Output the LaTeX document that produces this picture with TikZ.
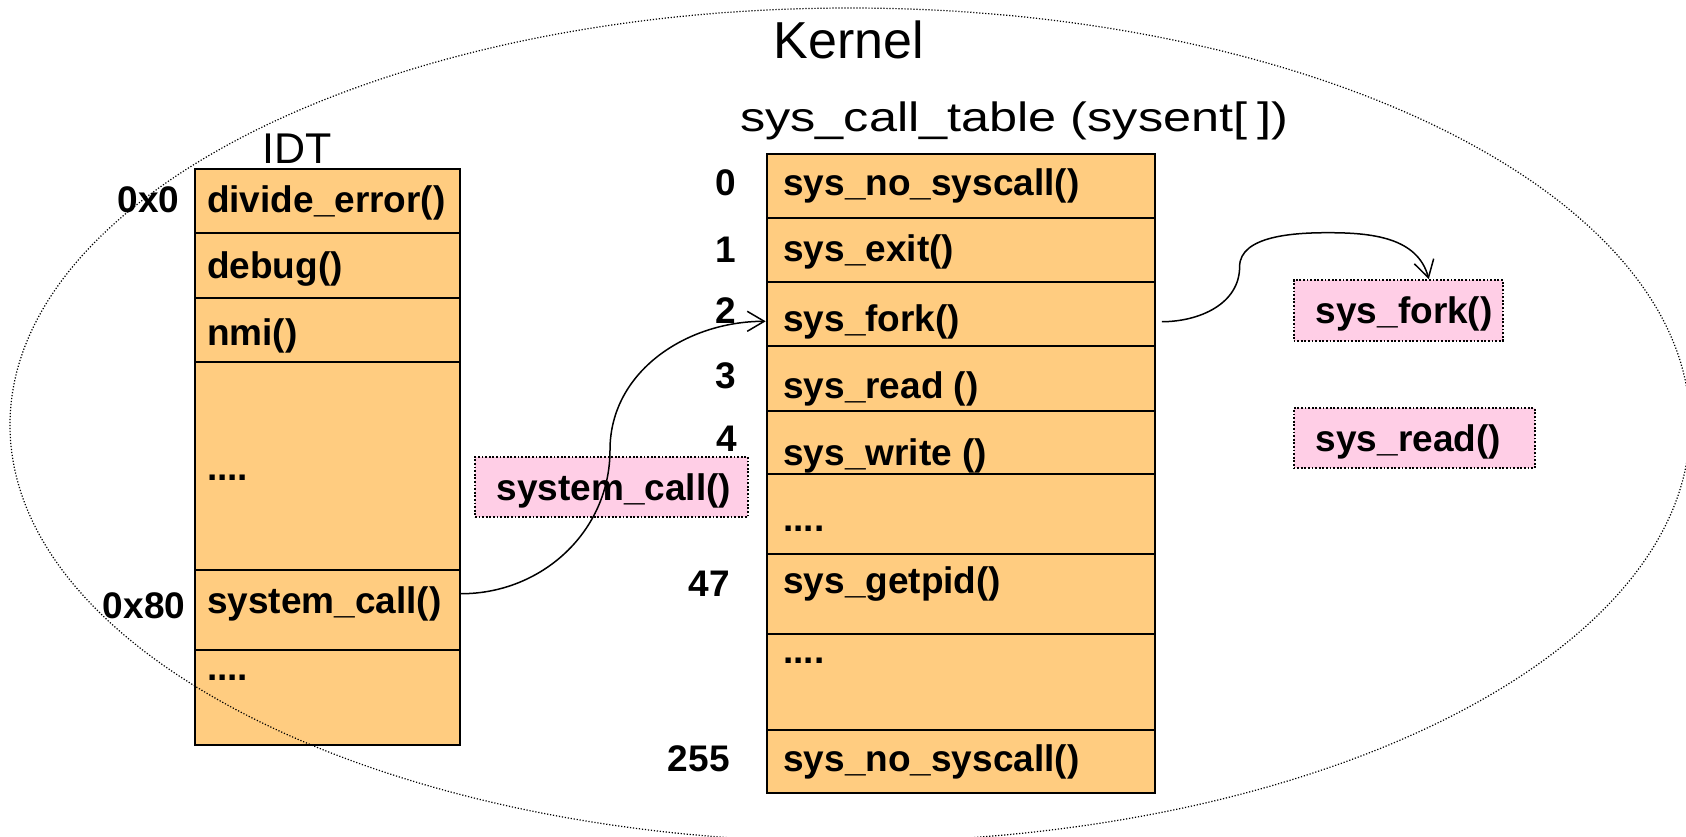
\documentclass[tikz,border=0pt]{standalone}
\usepackage{fontspec}
\setmainfont{Liberation Sans}
\newfontfamily\widefont[FakeStretch=1.23]{Liberation Sans}
\usetikzlibrary{arrows.meta,calc}
\definecolor{cellfill}{RGB}{255,204,128}
\definecolor{boxfill}{RGB}{255,206,230}
\begin{document}
\begin{tikzpicture}[x=0.5pt,y=0.5pt,
  cell/.style={draw=black, line width=1pt, fill=cellfill, inner sep=0pt, anchor=north west},
  idtcell/.style={cell, minimum width=132.4pt},
  tabcell/.style={cell, minimum width=194.05pt},
  lbl/.style={font=\fontsize{18.5pt}{20pt}\selectfont\bfseries, inner sep=0pt, anchor=base west},
  idx/.style={font=\fontsize{18.5pt}{20pt}\selectfont\bfseries, inner sep=0pt, anchor=base east},
  pbox/.style={draw=black, line width=0.9pt, dash pattern=on 0.9pt off 0.9pt, fill=boxfill,
    inner xsep=0pt, inner ysep=0pt, align=left, text height=13.25pt, text depth=0pt,
    font=\fontsize{18.5pt}{20pt}\selectfont\bfseries},
  ellip/.style={draw=black, line width=0.6pt, dash pattern=on 0.6pt off 0.9pt},
  arr/.style={draw=black, line width=0.75pt, -{Straight Barb[length=8.5pt,width=10pt]}}
]
\useasboundingbox (0,0) rectangle (1686,-836);
\clip (0,0) rectangle (1686,-836);

% titles
\node[font=\fontsize{26pt}{28pt}\selectfont, inner sep=0pt, anchor=base west] (kernel) at (773,-58.3) {Kernel};
\node[font=\fontsize{20.5pt}{22pt}\selectfont\widefont, inner sep=0pt, anchor=base west] (tabtitle) at (739.7,-131.7) {sys\_call\_table (sysent[\kern5pt])};
\node[font=\fontsize{21.5pt}{23pt}\selectfont, inner sep=0pt, anchor=base west] (idttitle) at (262,-163.3) {IDT};

% IDT table
\node[idtcell, minimum height=32pt]    (i0) at (194.4,-168.3) {};
\node[idtcell, minimum height=32.2pt]  (i1) at (194.4,-232.3) {};
\node[idtcell, minimum height=32.3pt]  (i2) at (194.4,-296.7) {};
\node[idtcell, minimum height=103.85pt](i3) at (194.4,-361.3) {};
\node[idtcell, minimum height=40pt]    (i4) at (194.4,-569) {};
\node[idtcell, minimum height=47.65pt] (i5) at (194.4,-649) {};

\node[lbl] (ti0) at (206.7,-212.3) {divide\_error()};
\node[lbl] (ti1) at (206.7,-278.3) {debug()};
\node[lbl] (ti2) at (206.7,-345) {nmi()};
\node[lbl] (ti3) at (206.7,-480) {....};
\node[lbl] (ti4) at (206.7,-613.3) {system\_call()};
\node[lbl] (ti5) at (206.7,-680) {....};

\node[idx] (a0) at (179.9,-212.3) {0x0};
\node[idx] (a80) at (185.6,-618) {0x80};

% sys_call_table
\node[tabcell, minimum height=32pt]    (s0) at (765.7,-152.7) {};
\node[tabcell, minimum height=32.15pt] (s1) at (765.7,-216.7) {};
\node[tabcell, minimum height=32.1pt]  (s2) at (765.7,-281) {};
\node[tabcell, minimum height=32.25pt] (s3) at (765.7,-345.2) {};
\node[tabcell, minimum height=31.7pt]  (s4) at (765.7,-409.7) {};
\node[tabcell, minimum height=40.1pt]  (s5) at (765.7,-473.1) {};
\node[tabcell, minimum height=39.7pt]  (s6) at (765.7,-553.3) {};
\node[tabcell, minimum height=48.15pt] (s7) at (765.7,-632.7) {};
\node[tabcell, minimum height=31.65pt] (s8) at (765.7,-729) {};

\node[lbl] (ts0) at (782.9,-195) {sys\_no\_syscall()};
\node[lbl] (ts1) at (782.9,-261.7) {sys\_exit()};
\node[lbl] (ts2) at (782.9,-331) {sys\_fork()};
\node[lbl] (ts3) at (782.9,-398) {sys\_read ()};
\node[lbl] (ts4) at (782.9,-465) {sys\_write ()};
\node[lbl] (ts5) at (782.9,-531) {....};
\node[lbl] (ts6) at (782.9,-593.3) {sys\_getpid()};
\node[lbl] (ts7) at (782.9,-663) {....};
\node[lbl] (ts8) at (782.9,-771.7) {sys\_no\_syscall()};

\node[idx] (n0) at (736.6,-195) {0};
\node[idx] (n1) at (736.6,-262) {1};
\node[idx] (n2) at (736.7,-323.3) {2};
\node[idx] (n3) at (736.7,-388.3) {3};
\node[idx] (n4) at (737,-451.7) {4};
\node[idx] (n47) at (730,-596) {47};
\node[idx] (n255) at (730,-771.7) {255};

% pink boxes
\node[pbox, minimum height=30pt, text width=136.5pt] (callbox) at (611.5,-487) {\hspace*{10.85pt}system\_call()};
\node[pbox, minimum height=30.35pt, text width=104.6pt] (forkbox) at (1398.2,-310.35) {\hspace*{11.1pt}sys\_fork()};
\node[pbox, minimum height=30pt, text width=120.5pt] (readbox) at (1414.1,-438.3) {\hspace*{11.1pt}sys\_read()};

% kernel ellipse
\draw[ellip] (850,-425) ellipse [x radius=420pt, y radius=208.5pt];

% connectors
\coordinate (m1) at (610,-450);
\draw[arr] ([yshift=8.15pt]i4.east) to[out=0,in=-90] (m1) to[out=90,in=180] ([yshift=-3.6pt]s2.west);

\coordinate (m2) at (1239.6,-266.7);
\coordinate (m3) at (1328,-232.7);
\draw[arr] ([xshift=3pt,yshift=-3.8pt]s2.east) to[out=0,in=-90] (m2) to[out=90,in=180,looseness=0.85] (m3) to[out=0,in=105] ([xshift=15.3pt]forkbox.north);
\end{tikzpicture}
\end{document}
